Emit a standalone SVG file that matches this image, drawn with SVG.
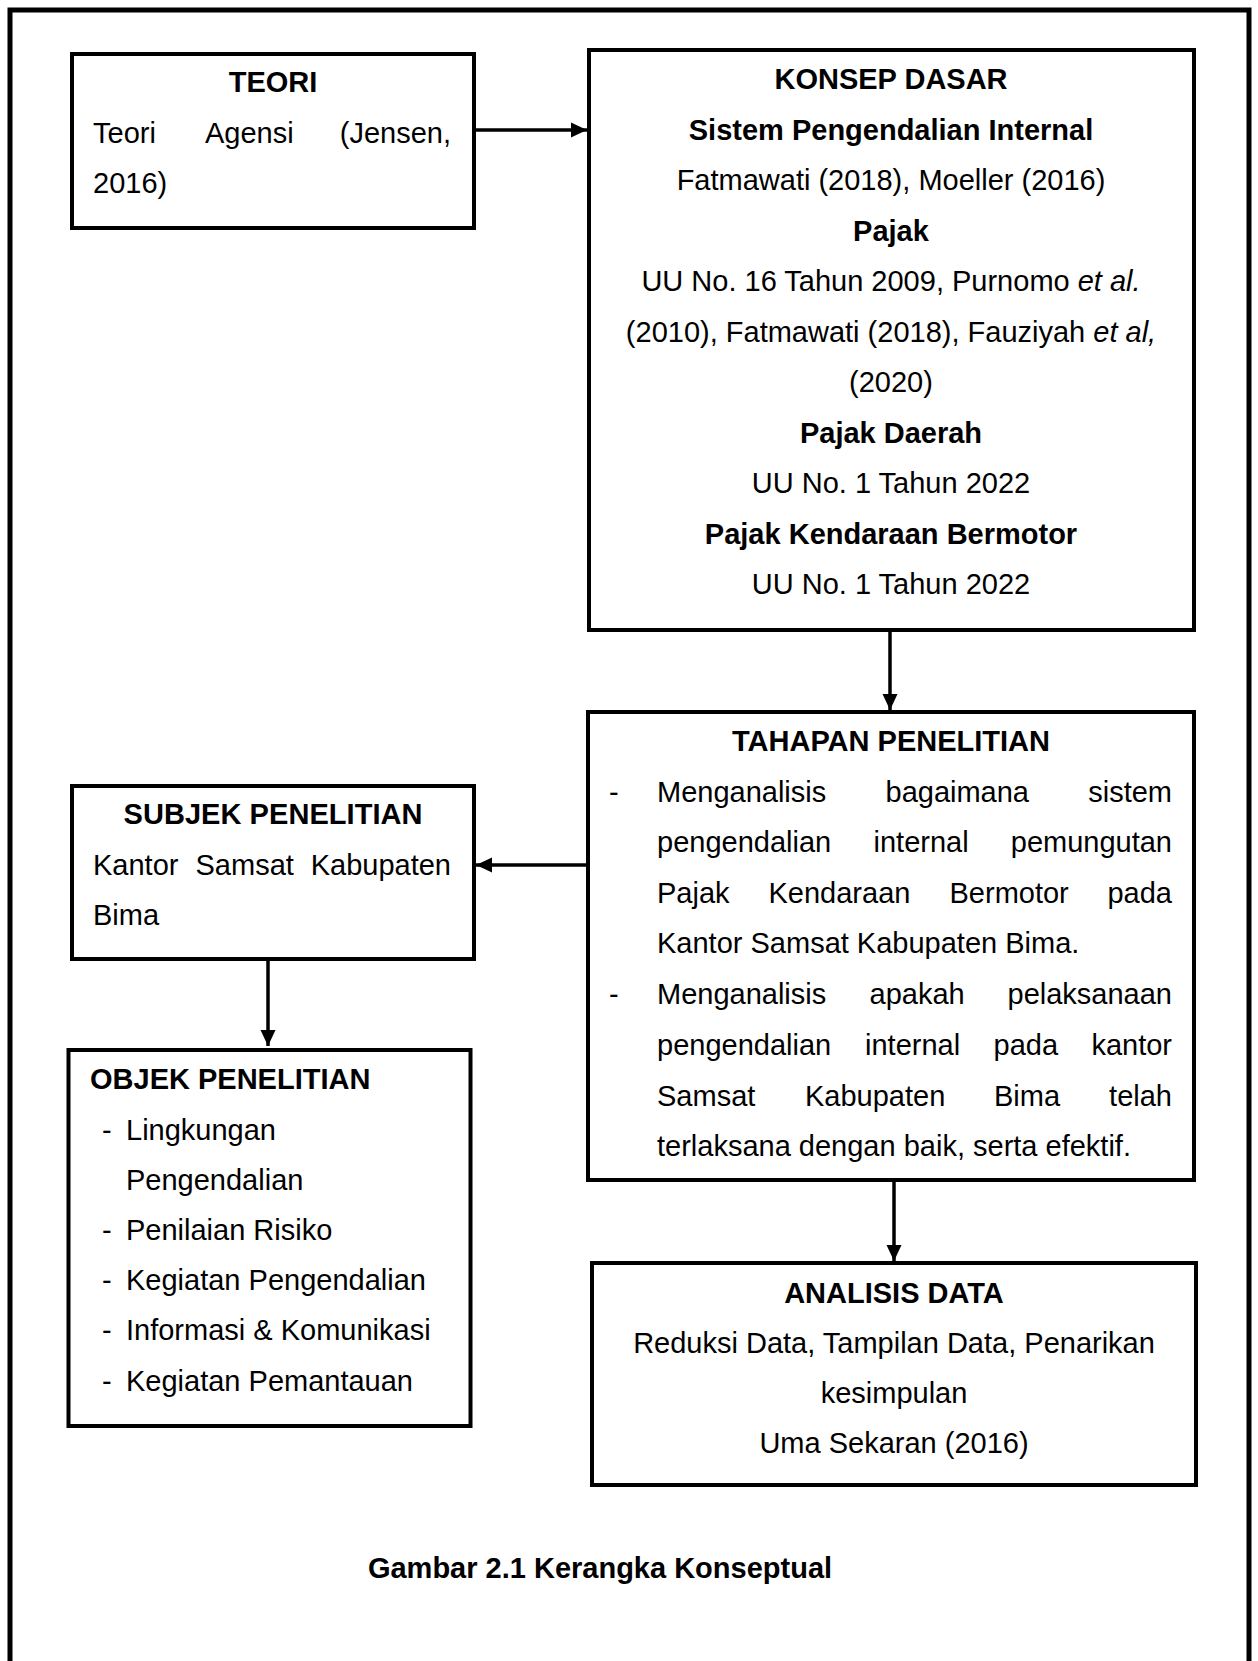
<svg xmlns="http://www.w3.org/2000/svg" width="1258" height="1661" viewBox="0 0 1258 1661">
<style>
.box{fill:#fff;stroke:#000;stroke-width:4}
.t{font-family:"Liberation Sans",Arial,sans-serif;font-size:29px;fill:#000}
.b{font-weight:bold}
.c{text-anchor:middle}
.e{text-anchor:end}
.i{font-style:italic}
.con{stroke:#000;stroke-width:3.5;fill:none}
</style>
<defs>
<marker id="ah" markerUnits="userSpaceOnUse" markerWidth="17" markerHeight="16" refX="16" refY="8" orient="auto">
<path d="M0,0.5 L16,8 L0,15.5 z" fill="#000"/>
</marker>
</defs>
<rect width="1258" height="1661" fill="#fff"/>
<path d="M10,1670 L10,10 L1249,10 L1249,1670" fill="none" stroke="#000" stroke-width="5"/>

<g id="teori">
<rect class="box" x="72" y="54" width="402" height="174"/>
<text class="t b c" x="273" y="92">TEORI</text>
<text class="t" x="93" y="143">Teori</text>
<text class="t" x="205" y="143">Agensi</text>
<text class="t e" x="451" y="143">(Jensen,</text>
<text class="t" x="93" y="193">2016)</text>
</g>

<g id="konsep">
<rect class="box" x="589" y="50" width="605" height="580"/>
<text class="t b c" x="891" y="89">KONSEP DASAR</text>
<text class="t b c" x="891" y="139.5">Sistem Pengendalian Internal</text>
<text class="t c" x="891" y="190">Fatmawati (2018), Moeller (2016)</text>
<text class="t b c" x="891" y="240.5">Pajak</text>
<text class="t c" x="891" y="291">UU No. 16 Tahun 2009, Purnomo <tspan class="i">et al.</tspan></text>
<text class="t c" x="891" y="341.5">(2010), Fatmawati (2018), Fauziyah <tspan class="i">et al,</tspan></text>
<text class="t c" x="891" y="392">(2020)</text>
<text class="t b c" x="891" y="442.5">Pajak Daerah</text>
<text class="t c" x="891" y="493">UU No. 1 Tahun 2022</text>
<text class="t b c" x="891" y="543.5">Pajak Kendaraan Bermotor</text>
<text class="t c" x="891" y="594">UU No. 1 Tahun 2022</text>
</g>

<g id="tahapan">
<rect class="box" x="588" y="712" width="606" height="468"/>
<text class="t b c" x="891" y="751">TAHAPAN PENELITIAN</text>
<text class="t" x="609" y="801.5">-</text>
<text class="t" x="657" y="801.5">Menganalisis</text>
<text class="t" x="885.5" y="801.5">bagaimana</text>
<text class="t e" x="1172" y="801.5">sistem</text>
<text class="t" x="657" y="852">pengendalian</text>
<text class="t" x="873.5" y="852">internal</text>
<text class="t e" x="1172" y="852">pemungutan</text>
<text class="t" x="657" y="902.5">Pajak</text>
<text class="t" x="768.5" y="902.5">Kendaraan</text>
<text class="t" x="949.5" y="902.5">Bermotor</text>
<text class="t e" x="1172" y="902.5">pada</text>
<text class="t" x="657" y="953">Kantor Samsat Kabupaten Bima.</text>
<text class="t" x="609" y="1004">-</text>
<text class="t" x="657" y="1004">Menganalisis</text>
<text class="t" x="869.5" y="1004">apakah</text>
<text class="t e" x="1172" y="1004">pelaksanaan</text>
<text class="t" x="657" y="1055">pengendalian</text>
<text class="t" x="865" y="1055">internal</text>
<text class="t" x="993.5" y="1055">pada</text>
<text class="t e" x="1172" y="1055">kantor</text>
<text class="t" x="657" y="1105.5">Samsat</text>
<text class="t" x="805" y="1105.5">Kabupaten</text>
<text class="t" x="994" y="1105.5">Bima</text>
<text class="t e" x="1172" y="1105.5">telah</text>
<text class="t" x="657" y="1155.5">terlaksana dengan baik, serta efektif.</text>
</g>

<g id="subjek">
<rect class="box" x="72" y="786" width="402" height="173"/>
<text class="t b c" x="273" y="824" textLength="299" lengthAdjust="spacing">SUBJEK PENELITIAN</text>
<text class="t" x="93" y="875">Kantor</text>
<text class="t" x="195.5" y="875">Samsat</text>
<text class="t e" x="451" y="875">Kabupaten</text>
<text class="t" x="93" y="925">Bima</text>
</g>

<g id="objek">
<rect class="box" x="68.5" y="1050" width="402" height="376"/>
<text class="t b" x="90" y="1089">OBJEK PENELITIAN</text>
<text class="t" x="102" y="1139.5">-</text>
<text class="t" x="126" y="1139.5">Lingkungan</text>
<text class="t" x="126" y="1189.5">Pengendalian</text>
<text class="t" x="102" y="1239.5">-</text>
<text class="t" x="126" y="1239.5">Penilaian Risiko</text>
<text class="t" x="102" y="1290">-</text>
<text class="t" x="126" y="1290">Kegiatan Pengendalian</text>
<text class="t" x="102" y="1340">-</text>
<text class="t" x="126" y="1340">Informasi &amp; Komunikasi</text>
<text class="t" x="102" y="1391">-</text>
<text class="t" x="126" y="1391">Kegiatan Pemantauan</text>
</g>

<g id="analisis">
<rect class="box" x="592" y="1263" width="604" height="222"/>
<text class="t b c" x="894" y="1302.5">ANALISIS DATA</text>
<text class="t c" x="894" y="1352.5">Reduksi Data, Tampilan Data, Penarikan</text>
<text class="t c" x="894" y="1403">kesimpulan</text>
<text class="t c" x="894" y="1453">Uma Sekaran (2016)</text>
</g>

<g id="caption">
<text class="t b c" x="600" y="1578">Gambar 2.1 Kerangka Konseptual</text>
</g>

<g id="connectors">
<line class="con" x1="476" y1="130" x2="587" y2="130" marker-end="url(#ah)"/>
<line class="con" x1="890" y1="632" x2="890" y2="710" marker-end="url(#ah)"/>
<line class="con" x1="586" y1="865" x2="476" y2="865" marker-end="url(#ah)"/>
<line class="con" x1="268" y1="961" x2="268" y2="1046" marker-end="url(#ah)"/>
<line class="con" x1="894" y1="1182" x2="894" y2="1261" marker-end="url(#ah)"/>
</g>
</svg>
